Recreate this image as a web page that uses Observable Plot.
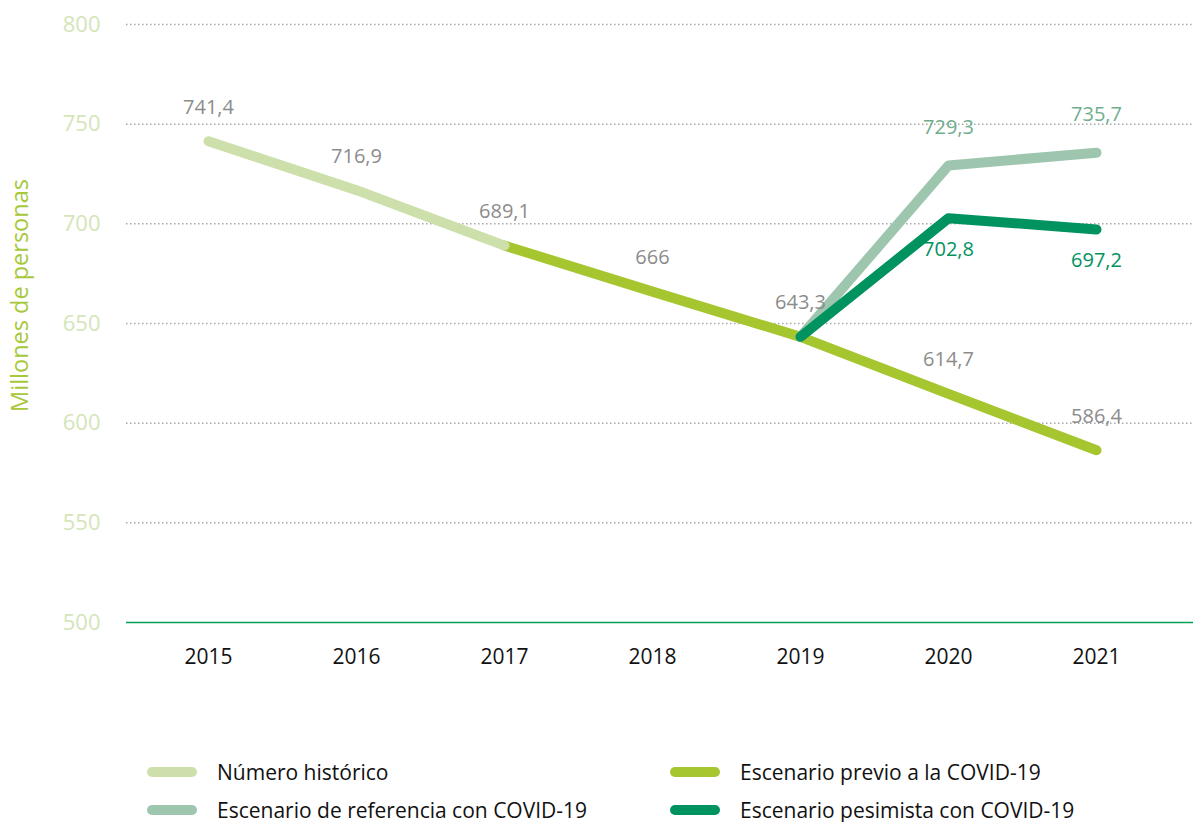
<!DOCTYPE html>
<html>
<head>
<meta charset="utf-8">
<script src="https://cdn.jsdelivr.net/npm/d3@7"></script>
<script src="https://cdn.jsdelivr.net/npm/@observablehq/plot@0.6"></script>
<style>
  body { margin: 0; background: #fff; font-family: "Open Sans", "Noto Sans", sans-serif; }
  #chart { position: relative; width: 1193px; }
  .legend { position: relative; height: 122px; width: 1193px; }
  .item { position: absolute; display: flex; align-items: center; font-size: 21px; color: #111; white-space: nowrap; }
  .sw { width: 50px; height: 10px; border-radius: 5px; margin-right: 20px; }
</style>
</head>
<body>
<div id="chart"></div>
<script>
const years = ["2015", "2016", "2017", "2018", "2019", "2020", "2021"];
const seriesNames = ["Número histórico", "Escenario previo a la COVID-19", "Escenario de referencia con COVID-19", "Escenario pesimista con COVID-19"];
const seriesColors = ["#cde0ab", "#a6c630", "#9ec6ae", "#00935f"];
const labelColors = ["#8c8c8c", "#8c8c8c", "#6fae8c", "#00935f"];

const historicoYears = ["2015", "2016", "2017"];
const historicoValues = [741.4, 716.9, 689.1];
const previoYears = ["2017", "2018", "2019", "2020", "2021"];
const previoValues = [689.1, 666, 643.3, 614.7, 586.4];
const referenciaYears = ["2019", "2020", "2021"];
const referenciaValues = [643.3, 729.3, 735.7];
const pesimistaYears = ["2019", "2020", "2021"];
const pesimistaValues = [643.3, 702.8, 697.2];

const yTicks = [500, 550, 600, 650, 700, 750, 800];
const gridTicks = [550, 600, 650, 700, 750, 800];

const mk = (ys, vs, s) => ys.map((y, i) => ({year: y, value: vs[i], series: s}));
const historico = mk(historicoYears, historicoValues, seriesNames[0]);
const previo = mk(previoYears, previoValues, seriesNames[1]);
const referencia = mk(referenciaYears, referenciaValues, seriesNames[2]);
const pesimista = mk(pesimistaYears, pesimistaValues, seriesNames[3]);

const grayLabels = historico.concat(previo.slice(1));
const refLabels = referencia.slice(1);
const pesLabels = pesimista.slice(1);
const fmt = v => String(v).replace(".", ",");

const lineOpts = (c) => ({x: "year", y: "value", stroke: c, strokeWidth: 10, strokeLinecap: "round", strokeLinejoin: "round"});

const chart = Plot.plot({
  width: 1193,
  height: 700,
  marginLeft: 126,
  marginRight: 0,
  marginTop: 24,
  marginBottom: 78,
  style: {fontFamily: "'Open Sans', 'Noto Sans', sans-serif", background: "#fff"},
  x: {type: "point", domain: years, range: [208, 1096], padding: 0, label: null},
  y: {domain: [500, 800], label: null},
  marks: [
    Plot.ruleY(gridTicks, {stroke: "#a8a8a8", strokeWidth: 1.5, strokeDasharray: "1.5,2.5"}),
    Plot.ruleY([500], {stroke: "#00a050", strokeWidth: 1.5}),
    Plot.axisY({ticks: yTicks, tickSize: 0, tickPadding: 26, fontSize: 22, color: "#d3e5b9", label: null}),
    Plot.axisX({tickSize: 0, tickPadding: 27, fontSize: 21, color: "#111", label: null}),
    Plot.text(["Millones de personas"], {frameAnchor: "left", textAnchor: "middle", rotate: -90, dx: -106, dy: -28, fontSize: 23.5, fill: "#a6c83a"}),
    Plot.line(previo, lineOpts(seriesColors[1])),
    Plot.line(historico, lineOpts(seriesColors[0])),
    Plot.line(referencia, lineOpts(seriesColors[2])),
    Plot.line(pesimista, lineOpts(seriesColors[3])),
    Plot.text(grayLabels, {x: "year", y: "value", text: d => fmt(d.value), dy: -34, fill: labelColors[0], fontSize: 20}),
    Plot.text(refLabels, {x: "year", y: "value", text: d => fmt(d.value), dy: -38, fill: labelColors[2], fontSize: 20}),
    Plot.text(pesLabels, {x: "year", y: "value", text: d => fmt(d.value), dy: 31, fill: labelColors[3], fontSize: 20})
  ]
});
document.getElementById("chart").appendChild(chart);

const legend = document.createElement("div");
legend.className = "legend";
const pos = [[147, 72], [670, 72], [147, 110], [670, 110]];
[0, 1, 2, 3].forEach((k, i) => {
  const it = document.createElement("div");
  it.className = "item";
  it.style.left = pos[i][0] + "px";
  it.style.top = (pos[i][1] - 14) + "px";
  it.style.height = "28px";
  const sw = document.createElement("span");
  sw.className = "sw";
  sw.style.background = seriesColors[k];
  const tx = document.createElement("span");
  tx.textContent = seriesNames[k];
  it.appendChild(sw); it.appendChild(tx);
  legend.appendChild(it);
});
document.getElementById("chart").appendChild(legend);
</script>
</body>
</html>
